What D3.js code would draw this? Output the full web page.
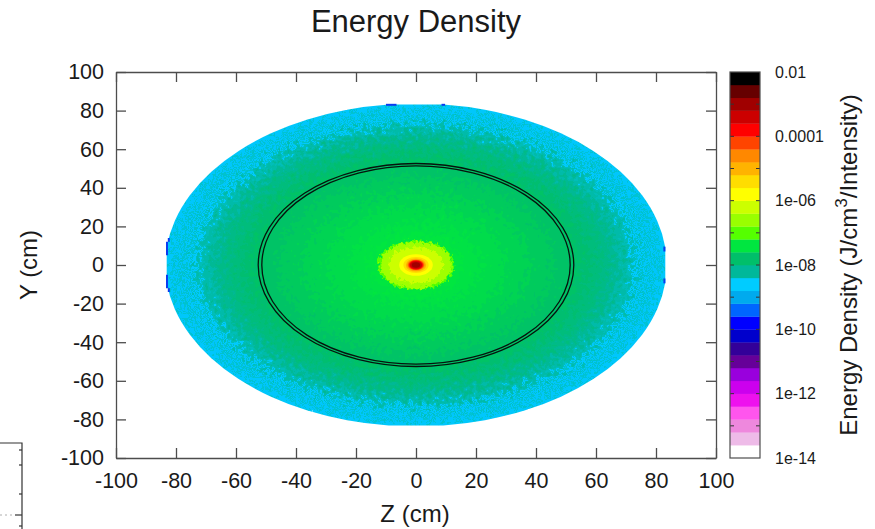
<!DOCTYPE html>
<meta charset="utf-8">
<style>
	html, body { margin: 0; padding: 0; background: white; }
	svg { display: block; }
	text { font-family: "Liberation Sans", sans-serif; fill: #1a1a1a; }
	.frame path, .frame line { stroke: #4d4d4d; stroke-width: 1.3; }
</style>
<body>
	<div id="chart"></div>
	<script src="https://d3js.org/d3.v7.min.js"></script>
	<script>
		// axis ticks
		const axisTicks = [-100, -80, -60, -40, -20, 0, 20, 40, 60, 80, 100];

		// colour box, bottom band first (2.5 bands per decade)
		const bandColors = ["#ffffff", "#eebbe8", "#ee88dd", "#ff55ee", "#ee11ee", "#cc00ee",
			"#9900dd", "#660099", "#330099", "#0000cc", "#0000ff", "#0066ff", "#00aaee", "#00ccff",
			"#00b89a", "#00bf6a", "#00e640", "#55ff00", "#99ff00", "#ccff00", "#ffff00", "#ffdd00",
			"#ffb300", "#ff8800", "#ff4400", "#ff0000", "#cc0000", "#a00000", "#660000", "#000000"];
		const bandLow = d3.range(30).map(i => -14 + i * 0.4);
		const decadeTicks = [-14, -13, -12, -11, -10, -9, -8, -7, -6, -5, -4, -3, -2];
		const decadeLabels = ["1e-14", "1e-12", "1e-10", "1e-08", "1e-06", "0.0001", "0.01"];
		const decadeLabelPos = [-14, -12, -10, -8, -6, -4, -2];

		// radial energy profile: outer radius (cm) and log10(density)
		const ringRadius = [90, 82, 80.5, 79, 77.5, 76, 74.5, 73, 71, 68, 65, 62, 58, 54, 46, 38, 30, 22, 16];
		const ringLevel = [-8.66, -8.42, -8.68, -8.4, -8.66, -8.38, -8.62, -8.32, -8.26, -8.16, -8.04, -7.94, -7.84, -7.76, -7.68, -7.58, -7.5, -7.44, -7.4];
		const coreRadius = [12.8, 12, 9.2, 5.6, 4.2, 3.4, 2.9, 2.6, 2.3, 2.0, 1.4];
		const coreLevel = [-7.0, -6.55, -6.2, -5.8, -5.4, -5.0, -4.6, -4.2, -3.8, -3.4, -3.0];

		// sample edge and detector shell
		const sampleRadius = 83.6, sampleLimit = 83.1;
		const shellRadius = [52.6, 51.4];

		// darker cells left on the flat edges of the sample: z1, y1, z2, y2
		const edgeCells = [[-10, 83, -6.5, 83], [8.5, 83, 9.7, 83],
			[-83, 12, -83, 5], [-83, -5, -83, -12], [-82.4, 14, -82.4, 12], [-82.4, -12, -82.4, -14],
			[82.8, 9.5, 82.8, 7], [82.8, -7, 82.8, -9.5]];

		// corner of the neighbouring plot, pixel rows of its ticks
		const cornerTicks = [450, 465, 494, 515, 526];
		const cornerTickLen = [3, 3, 3, 7, 3];

		const width = 875, height = 529;
		const plot = { left: 116, right: 716, top: 72, bottom: 458 };
		const box = { left: 730, right: 760 };

		const x = d3.scaleLinear().domain([-100, 100]).range([plot.left, plot.right]);
		const y = d3.scaleLinear().domain([-100, 100]).range([plot.bottom, plot.top]);
		const c = d3.scaleLinear().domain([-14, -2]).range([plot.bottom, plot.top]);
		const levelColor = d3.scaleLinear()
			.domain(bandLow.map(d => d + 0.2))
			.range(bandColors)
			.clamp(true);

		const svg = d3.select("#chart").append("svg")
			.attr("width", width)
			.attr("height", height);

		const defs = svg.append("defs");

		function roughFilter(id, scale, freq) {
			const f = defs.append("filter")
				.attr("id", id)
				.attr("filterUnits", "userSpaceOnUse")
				.attr("x", plot.left).attr("y", plot.top)
				.attr("width", plot.right - plot.left).attr("height", plot.bottom - plot.top);
			f.append("feTurbulence")
				.attr("type", "fractalNoise")
				.attr("baseFrequency", freq)
				.attr("numOctaves", 2)
				.attr("seed", 4)
				.attr("result", "n");
			f.append("feDisplacementMap")
				.attr("in", "SourceGraphic")
				.attr("in2", "n")
				.attr("scale", scale)
				.attr("xChannelSelector", "R")
				.attr("yChannelSelector", "G")
				.attr("result", "d");
			f.append("feGaussianBlur")
				.attr("in", "d")
				.attr("stdDeviation", 0.4);
		}
		roughFilter("rough", 40, 0.22);
		roughFilter("roughCore", 9, 0.3);

		defs.append("clipPath").attr("id", "edgeClip")
			.append("path")
			.attr("d", () => {
				const dz = Math.sqrt(sampleRadius * sampleRadius - sampleLimit * sampleLimit);
				const rx = x(sampleRadius) - x(0), ry = y(0) - y(sampleRadius);
				return "M" + x(-dz) + "," + y(sampleLimit) + "L" + x(dz) + "," + y(sampleLimit)
					+ "A" + rx + "," + ry + " 0 0 1 " + x(sampleLimit) + "," + y(dz)
					+ "L" + x(sampleLimit) + "," + y(-dz)
					+ "A" + rx + "," + ry + " 0 0 1 " + x(dz) + "," + y(-sampleLimit)
					+ "L" + x(-dz) + "," + y(-sampleLimit)
					+ "A" + rx + "," + ry + " 0 0 1 " + x(-sampleLimit) + "," + y(-dz)
					+ "L" + x(-sampleLimit) + "," + y(dz)
					+ "A" + rx + "," + ry + " 0 0 1 " + x(-dz) + "," + y(sampleLimit) + "Z";
			});

		function ellipses(g, radii, levels) {
			g.selectAll("ellipse")
				.data(radii)
				.enter()
				.append("ellipse")
				.attr("cx", x(0))
				.attr("cy", y(0))
				.attr("rx", d => x(d) - x(0))
				.attr("ry", d => y(0) - y(d))
				.attr("fill", (d, i) => levelColor(levels[i]));
		}

		// energy map
		const map = svg.append("g").attr("clip-path", "url(#edgeClip)");
		ellipses(map.append("g").attr("filter", "url(#rough)"), ringRadius, ringLevel);
		ellipses(map.append("g").attr("filter", "url(#roughCore)"), coreRadius.slice(0, 3), coreLevel.slice(0, 3));
		ellipses(map.append("g").style("filter", "blur(0.5px)"), coreRadius.slice(3), coreLevel.slice(3));

		svg.append("g").selectAll("line")
			.data(edgeCells)
			.enter()
			.append("line")
			.attr("x1", d => x(d[0])).attr("y1", d => y(d[1]))
			.attr("x2", d => x(d[2])).attr("y2", d => y(d[3]))
			.attr("stroke", "#0a3cf0")
			.attr("stroke-width", 2);

		svg.append("g").selectAll("ellipse")
			.data(shellRadius)
			.enter()
			.append("ellipse")
			.attr("cx", x(0))
			.attr("cy", y(0))
			.attr("rx", d => x(d) - x(0))
			.attr("ry", d => y(0) - y(d))
			.attr("fill", "none")
			.attr("stroke", "#06140d")
			.attr("stroke-width", 1.3);

		// frame and ticks
		const tickLen = 10;
		const bottomAxis = d3.axisBottom(x).tickValues(axisTicks).tickSizeInner(-tickLen).tickSizeOuter(0).tickPadding(15).tickFormat(String);
		const leftAxis = d3.axisLeft(y).tickValues(axisTicks).tickSizeInner(-tickLen).tickSizeOuter(0).tickPadding(12).tickFormat(String);
		const topAxis = d3.axisTop(x).tickValues(axisTicks).tickSizeInner(-tickLen).tickSizeOuter(0).tickFormat("");
		const rightAxis = d3.axisRight(y).tickValues(axisTicks).tickSizeInner(-tickLen).tickSizeOuter(0).tickFormat("");

		[[bottomAxis, 0, plot.bottom], [leftAxis, plot.left, 0], [topAxis, 0, plot.top], [rightAxis, plot.right, 0]]
			.forEach(a => {
				const g = svg.append("g")
					.attr("class", "frame")
					.attr("transform", "translate(" + a[1] + "," + a[2] + ")")
					.call(a[0]);
				g.selectAll("text").style("font-size", "21.5px");
				g.attr("font-family", null);
			});

		// colour box
		svg.append("g").selectAll("rect")
			.data(bandColors)
			.enter()
			.append("rect")
			.attr("x", box.left)
			.attr("width", box.right - box.left)
			.attr("y", (d, i) => c(bandLow[i] + 0.4))
			.attr("height", (d, i) => c(bandLow[i]) - c(bandLow[i] + 0.4) + 0.3)
			.attr("fill", d => d);

		const boxTicks = svg.append("g").attr("stroke", "#333").attr("stroke-width", 1);
		[[box.left, box.left + 4], [box.right - 4, box.right]].forEach(s => {
			boxTicks.append("g").selectAll("line")
				.data(decadeTicks.slice(1, -1))
				.enter()
				.append("line")
				.attr("x1", s[0]).attr("x2", s[1])
				.attr("y1", d => c(d)).attr("y2", d => c(d));
		});

		svg.append("rect")
			.attr("x", box.left).attr("y", plot.top)
			.attr("width", box.right - box.left).attr("height", plot.bottom - plot.top)
			.attr("fill", "none")
			.attr("stroke", "#4d4d4d")
			.attr("stroke-width", 1.2);

		svg.append("g").selectAll("text")
			.data(decadeLabels)
			.enter()
			.append("text")
			.attr("x", 775)
			.attr("y", (d, i) => c(decadeLabelPos[i]))
			.attr("dy", "0.35em")
			.style("font-size", "16px")
			.text(d => d);

		// titles
		svg.append("text")
			.attr("x", 416).attr("y", 32)
			.attr("text-anchor", "middle")
			.style("font-size", "31px")
			.text("Energy Density");

		svg.append("text")
			.attr("x", 415).attr("y", 522)
			.attr("text-anchor", "middle")
			.style("font-size", "24px")
			.text("Z (cm)");

		svg.append("text")
			.attr("transform", "translate(37,265) rotate(-90)")
			.attr("text-anchor", "middle")
			.style("font-size", "24px")
			.text("Y (cm)");

		const cbLabel = svg.append("text")
			.attr("transform", "translate(857,265) rotate(-90)")
			.attr("text-anchor", "middle")
			.style("font-size", "24px");
		cbLabel.append("tspan").text("Energy Density (J/cm");
		cbLabel.append("tspan").attr("dy", -10).style("font-size", "17px").text("3");
		cbLabel.append("tspan").attr("dy", 10).text("/Intensity)");

		// bit of the neighbouring plot at the lower left
		const corner = svg.append("g").attr("stroke", "#333").attr("stroke-width", 1.2);
		corner.append("path")
			.attr("fill", "none")
			.attr("d", "M0,443H22V529");
		corner.selectAll("line")
			.data(cornerTicks)
			.enter()
			.append("line")
			.attr("x1", (d, i) => 22 - cornerTickLen[i]).attr("x2", 22)
			.attr("y1", d => d).attr("y2", d => d);
		corner.append("line")
			.attr("x1", 0).attr("x2", 15)
			.attr("y1", 515).attr("y2", 515)
			.attr("stroke", "#999")
			.attr("stroke-width", 0.8)
			.attr("stroke-dasharray", "2,3");
	</script>
</body>
</html>
